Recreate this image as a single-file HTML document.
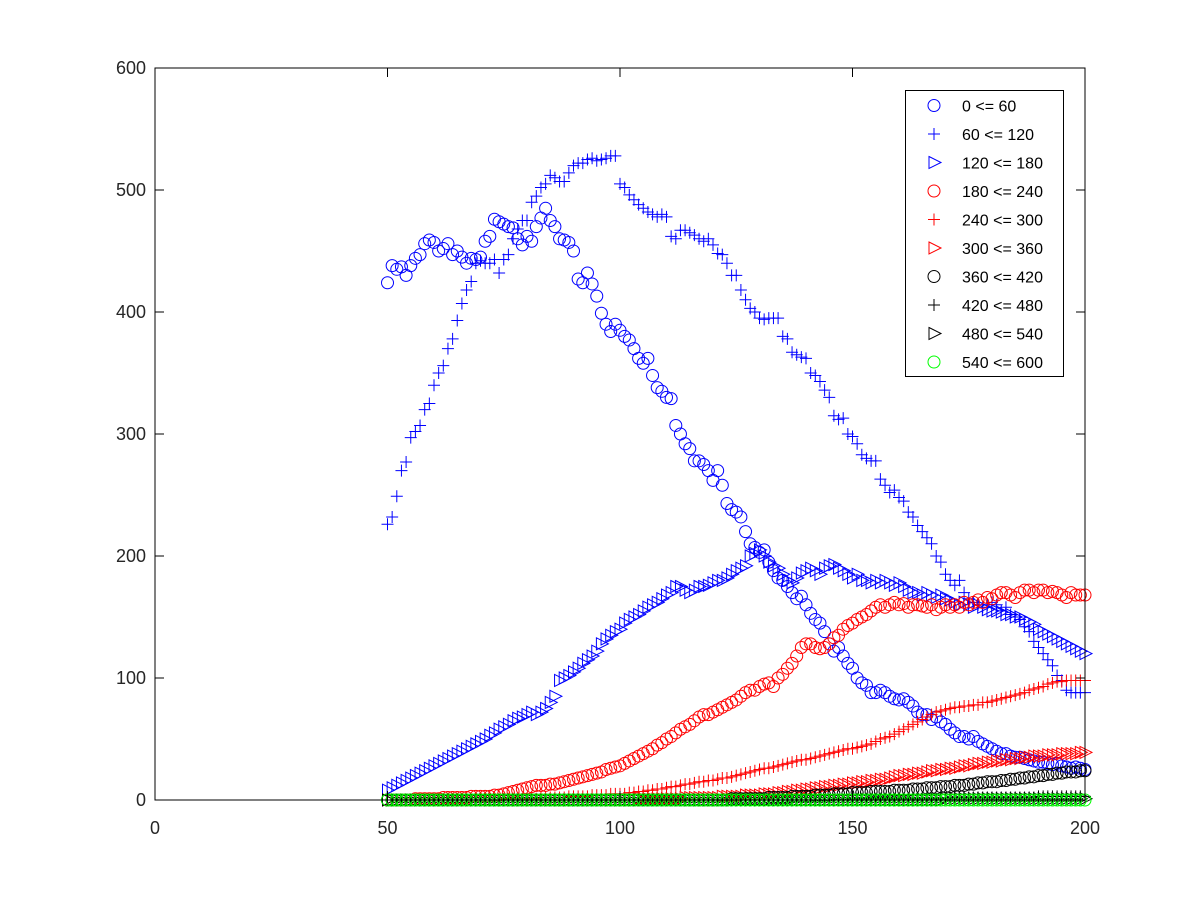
<!DOCTYPE html>
<html><head><meta charset="utf-8"><style>
html,body{margin:0;padding:0;background:#fff;}
svg{display:block;font-family:"Liberation Sans",sans-serif;}
</style></head><body>
<svg id="chart" width="1200" height="900" viewBox="0 0 1200 900">
<rect x="0" y="0" width="1200" height="900" fill="#fff"/>
<g id="marks"></g>
<g id="axes"></g>
<g id="legend"></g>
</svg>
<script>
const xStart = 50;
const labels = ["0 <= 60","60 <= 120","120 <= 180","180 <= 240","240 <= 300","300 <= 360","360 <= 420","420 <= 480","480 <= 540","540 <= 600"];
const colors = ["#0000ff","#0000ff","#0000ff","#ff0000","#ff0000","#ff0000","#000000","#000000","#000000","#00ff00"];
const shapes = ["circle","plus","tri","circle","plus","tri","circle","plus","tri","circle"];
const xTicks = [0,50,100,150,200];
const yTicks = [0,100,200,300,400,500,600];
const s1 = [424,438,435,437,430,438,444,447,456,459,457,450,452,456,447,450,445,440,444,443,445,458,462,476,474,472,470,469,460,455,462,458,470,477,485,475,470,460,459,457,450,427,424,432,423,413,399,390,384,390,385,380,377,370,362,358,362,348,338,335,330,329,307,300,292,288,278,278,275,270,262,270,258,243,238,236,232,220,210,207,203,205,195,188,182,180,175,170,165,167,160,153,148,145,138,128,122,125,118,112,108,100,96,94,88,88,90,88,85,83,82,83,80,77,72,70,70,66,68,64,62,58,55,52,52,50,52,48,46,44,42,40,38,38,36,35,35,34,33,32,31,31,30,29,30,28,27,26,27,26,25];
const s2 = [226,232,249,270,277,297,302,307,320,325,340,350,356,370,378,393,407,418,425,440,442,440,440,443,432,443,447,460,468,475,475,490,495,502,505,512,510,507,507,514,520,522,522,525,526,524,525,526,528,528,505,502,496,492,488,485,482,480,478,480,478,462,460,467,467,465,463,460,458,460,455,448,447,440,430,430,418,410,403,400,395,394,395,395,395,380,378,367,365,363,362,350,348,343,336,330,315,312,313,300,298,292,283,280,278,278,263,258,252,254,248,245,236,232,225,220,215,210,200,195,185,180,176,180,170,165,162,160,158,160,162,160,155,158,152,150,148,142,138,130,125,120,115,110,102,98,90,88,88,88,88];
const s3 = [8,10,12,14,16,18,20,22,24,26,28,30,32,34,36,38,40,42,44,46,48,50,53,55,58,60,62,65,67,68,70,72,70,72,75,80,85,98,100,102,105,108,112,115,118,122,128,132,135,138,140,145,148,150,152,155,158,160,162,165,168,170,175,175,172,170,172,175,175,176,178,180,180,182,185,188,190,192,200,202,205,200,195,192,190,185,180,178,182,186,188,190,188,185,190,192,193,190,188,185,182,185,180,180,178,180,178,180,178,176,178,175,172,170,170,168,170,168,166,168,165,164,162,160,162,160,158,160,158,156,155,155,154,152,152,150,150,148,146,144,140,138,136,134,132,130,128,126,124,122,120];
const s4 = [0,0,0,0,0,0,1,1,1,1,1,1,2,2,2,2,2,2,3,3,3,3,3,4,4,5,6,7,8,9,10,11,12,12,12,13,13,14,15,16,17,18,19,20,21,22,23,25,26,27,28,30,32,34,36,38,40,42,45,47,50,52,55,58,60,62,65,68,70,70,72,74,76,78,80,82,85,88,90,90,93,95,96,93,100,103,108,112,118,125,128,128,125,124,125,128,133,135,140,143,145,148,150,152,155,158,160,158,160,162,160,161,158,160,160,159,158,160,156,158,160,158,160,158,162,160,162,164,162,166,165,168,170,170,168,166,170,172,172,170,172,172,170,171,170,168,166,170,168,168,168];
const s5 = [0,0,0,0,0,0,0,0,0,0,0,0,0,0,0,0,0,0,0,0,0,0,0,0,0,1,1,1,1,1,1,1,1,2,2,2,2,2,2,3,3,3,3,3,4,4,4,4,5,5,5,5,6,6,7,7,8,8,9,9,10,11,11,12,13,13,14,15,15,16,16,17,18,18,19,20,21,22,23,24,25,26,26,27,28,29,30,31,32,33,33,34,35,36,37,38,39,40,41,42,42,43,44,45,46,48,50,51,52,54,56,58,60,62,64,66,68,70,72,73,74,75,76,76,77,77,78,78,80,80,81,82,83,84,85,86,87,88,90,91,92,93,95,96,97,97,98,98,98,98,98];
const s6 = [0,0,0,0,0,0,0,0,0,0,0,0,0,0,0,0,0,0,0,0,0,0,0,0,0,0,0,0,0,0,0,0,0,0,0,0,0,0,0,0,0,0,0,0,0,0,0,0,0,0,0,0,0,0,1,1,1,1,1,1,1,1,1,1,2,2,2,2,2,2,2,2,3,3,3,3,3,4,4,4,4,5,5,5,6,6,7,7,8,8,9,9,10,10,11,11,12,12,13,13,14,14,15,15,16,16,17,17,18,19,20,20,21,21,22,22,23,24,24,25,25,26,26,27,28,28,29,30,30,31,31,32,32,33,33,34,34,35,35,36,36,36,37,37,37,38,38,38,38,39,39];
const s7 = [0,0,0,0,0,0,0,0,0,0,0,0,0,0,0,0,0,0,0,0,0,0,0,0,0,0,0,0,0,0,0,0,0,0,0,0,0,0,0,0,0,0,0,0,0,0,0,0,0,0,0,0,0,0,0,0,0,0,0,0,0,0,0,0,0,0,0,0,0,0,0,0,0,0,1,1,1,1,1,1,1,1,2,2,2,2,2,3,3,3,3,3,4,4,4,4,5,5,5,5,6,6,6,6,7,7,7,7,7,8,8,8,8,9,9,9,10,10,10,11,11,11,12,12,12,13,13,14,14,15,15,15,16,16,17,17,18,18,19,19,20,20,21,21,22,22,23,23,23,24,24];
const s8 = [0,0,0,0,0,0,0,0,0,0,0,0,0,0,0,0,0,0,0,0,0,0,0,0,0,0,0,0,0,0,0,0,0,0,0,0,0,0,0,0,0,0,0,0,0,0,0,0,0,0,0,0,0,0,0,0,0,0,0,0,0,0,0,0,0,0,0,0,0,0,0,0,0,0,0,0,0,0,0,0,0,0,0,0,0,0,0,0,0,0,0,0,0,0,0,0,0,0,0,0,1,1,1,1,1,1,1,1,1,1,1,1,1,1,1,1,1,1,1,1,1,2,2,2,2,2,2,2,2,2,2,2,2,2,2,2,2,2,2,2,3,3,3,3,3,3,3,3,3,3,3];
const s9 = [0,0,0,0,0,0,0,0,0,0,0,0,0,0,0,0,0,0,0,0,0,0,0,0,0,0,0,0,0,0,0,0,0,0,0,0,0,0,0,0,0,0,0,0,0,0,0,0,0,0,0,0,0,0,0,0,0,0,0,0,0,0,0,0,0,0,0,0,0,0,0,0,0,0,0,0,0,0,0,0,0,0,0,0,0,0,0,0,0,0,0,0,0,0,0,0,0,0,0,0,0,0,0,0,0,0,0,0,0,0,0,0,0,0,0,0,0,0,0,0,1,1,1,1,1,1,1,1,1,1,1,1,1,1,1,1,1,1,1,1,1,1,1,1,1,1,1,1,1,1,1];
const s10 = [0,0,0,0,0,0,0,0,0,0,0,0,0,0,0,0,0,0,0,0,0,0,0,0,0,0,0,0,0,0,0,0,0,0,0,0,0,0,0,0,0,0,0,0,0,0,0,0,0,0,0,0,0,0,0,0,0,0,0,0,0,0,0,0,0,0,0,0,0,0,0,0,0,0,0,0,0,0,0,0,0,0,0,0,0,0,0,0,0,0,0,0,0,0,0,0,0,0,0,0,0,0,0,0,0,0,0,0,0,0,0,0,0,0,0,0,0,0,0,0,0,0,0,0,0,0,0,0,0,0,0,0,0,0,0,0,0,0,0,0,0,0,0,0,0,0,0,0,0,0,0];
const series = [s1,s2,s3,s4,s5,s6,s7,s8,s9,s10];

const NS = "http://www.w3.org/2000/svg";
const L=155,R=1085,T=68,B=800;
function xS(v){return L+(v-0)/(200-0)*(R-L);}
function yS(v){return B-(v-0)/(600-0)*(B-T);}
function mk(tag,attrs,parent){const e=document.createElementNS(NS,tag);for(const k in attrs)e.setAttribute(k,attrs[k]);parent.appendChild(e);return e;}
function marker(shape,cx,cy,color,parent){
  let e;
  if(shape==="circle"){e=mk("circle",{cx:cx,cy:cy,r:6,fill:"none",stroke:color,"stroke-width":1},parent);}
  else if(shape==="plus"){e=mk("path",{d:`M${cx-6} ${cy}H${cx+6}M${cx} ${cy-6}V${cy+6}`,fill:"none",stroke:color,"stroke-width":1},parent);}
  else {e=mk("path",{d:`M${cx-5} ${cy-6}L${cx+7} ${cy}L${cx-5} ${cy+6}Z`,fill:"none",stroke:color,"stroke-width":1},parent);}
  return e;
}
const marks=document.getElementById("marks");
series.forEach((arr,si)=>{
  const g=mk("g",{},marks);
  
  
  arr.forEach((v,i)=>{
    const m=marker(shapes[si],xS(xStart+i),yS(v),colors[si],g);
    
    
  });
});
const axes=document.getElementById("axes");
const frame=mk("rect",{x:L,y:T,width:R-L,height:B-T,fill:"none",stroke:"#000","stroke-width":1},axes);


xTicks.forEach(t=>{
  const x=xS(t);
  mk("path",{d:`M${x} ${B}V${B-9}M${x} ${T}V${T+9}`,stroke:"#000","stroke-width":1},axes);
  const tx=mk("text",{x:x,y:B+34,"text-anchor":"middle","font-size":"18",fill:"#262626"},axes);
  tx.textContent=t;
  
  
});
yTicks.forEach(t=>{
  const y=yS(t);
  mk("path",{d:`M${L} ${y}H${L+9}M${R} ${y}H${R-9}`,stroke:"#000","stroke-width":1},axes);
  const tx=mk("text",{x:L-9,y:y+6,"text-anchor":"end","font-size":"18",fill:"#262626"},axes);
  tx.textContent=t;
  
  
});
const leg=document.getElementById("legend");
const box=mk("rect",{x:905.5,y:90.5,width:158,height:286,fill:"#fff",stroke:"#000","stroke-width":1},leg);


labels.forEach((lab,i)=>{
  const y=105.5+i*28.5;
  const g=mk("g",{},leg);
  
  
  marker(shapes[i],934,y,colors[i],g);
  const tx=mk("text",{x:962,y:y+6,"font-size":"16",fill:"#000"},g);
  tx.textContent=lab;
});
</script>
</body></html>
